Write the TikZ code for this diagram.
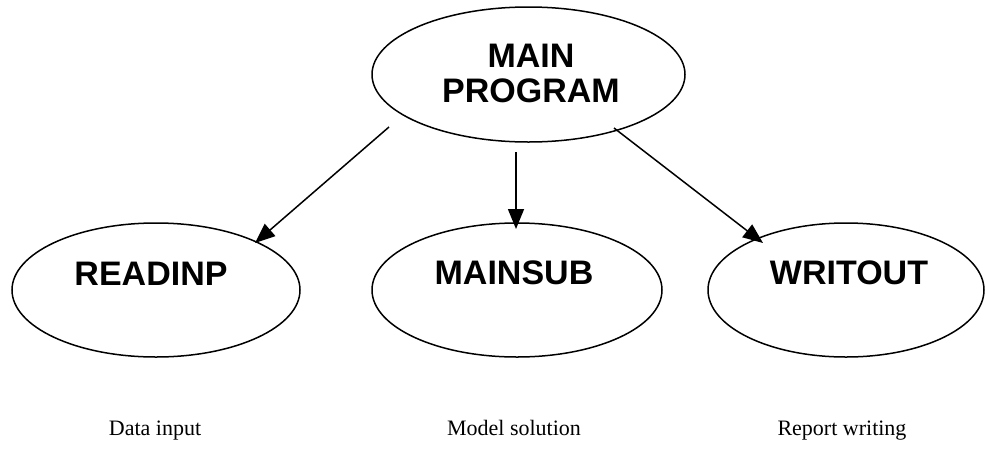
\documentclass[tikz,border=0pt]{standalone}
\usepackage{fontspec}
\setmainfont{Liberation Serif}
\setsansfont{Liberation Sans}
\usetikzlibrary{shapes.geometric,arrows.meta}
\tikzset{
  oval/.style={ellipse,draw,line width=1.5pt,inner sep=0pt},
  modname/.style={font=\sffamily\bfseries\fontsize{34}{35}\selectfont,inner sep=0pt,anchor=base,align=center},
  caption/.style={font=\fontsize{22}{26}\selectfont,inner sep=0pt,anchor=base},
  callarrow/.style={line width=1.5pt,-{Triangle[length=20pt,width=16pt]}}
}
\begin{document}
\begin{tikzpicture}[x=1pt,y=-1pt]
\useasboundingbox (0,0) rectangle (986,448);
% ellipses
\node[oval,minimum width=313pt,minimum height=135pt] (main) at (528.5,74.5) {};
\node[oval,minimum width=288pt,minimum height=134pt] (readinp) at (156,290) {};
\node[oval,minimum width=290pt,minimum height=134pt] (mainsub) at (517,290) {};
\node[oval,minimum width=276pt,minimum height=134pt] (writout) at (846,290) {};
% texts
\node[modname] (tmain) at (531,102) {MAIN\\PROGRAM};
\node[modname] (tread) at (151,285) {READINP};
\node[modname] (tsub) at (514,284) {MAINSUB};
\node[modname] (twrit) at (849,284) {WRITOUT};
% captions
\node[caption] (c1) at (155,435) {Data input};
\node[caption] (c2) at (514,435) {Model solution};
\node[caption] (c3) at (842,435) {Report writing};
% connector ends
\coordinate (s1) at (389,127);
\coordinate (e1) at (255,243);
\coordinate (s2) at (516,152);
\coordinate (e2) at (516,229);
\coordinate (s3) at (614,128);
\coordinate (e3) at (763,243);
\draw[callarrow] (s1) -- (e1);
\draw[callarrow] (s2) -- (e2);
\draw[callarrow] (s3) -- (e3);
\end{tikzpicture}
\end{document}
